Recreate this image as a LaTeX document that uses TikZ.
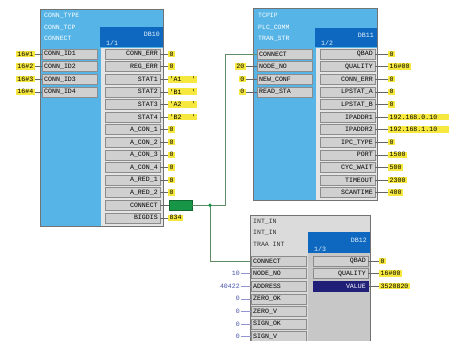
\documentclass[tikz,border=0pt]{standalone}
\usepackage{fontspec}
\setmonofont{Liberation Mono}
\definecolor{fbblue}{RGB}{86,180,230}
\definecolor{fbdark}{RGB}{14,104,192}
\definecolor{pingray}{RGB}{208,208,208}
\definecolor{valyellow}{RGB}{246,232,62}
\definecolor{conngreen}{RGB}{24,150,72}
\definecolor{pinnavy}{RGB}{32,32,120}
\definecolor{constblue}{RGB}{72,82,170}
\definecolor{linkcol}{RGB}{96,140,104}
\tikzset{
  frame/.style={draw=black!55, line width=0.6pt},
  hdr/.style={anchor=north west, align=left, inner sep=0pt, text=white,
    font=\fontsize{6.5}{11.5}\selectfont\ttfamily},
  dbtxt/.style={inner sep=0pt, text=white!85!fbblue},
  pinin/.style={draw=black!45, fill=pingray, text width=51pt, minimum height=10pt,
    inner xsep=2pt, inner ysep=0pt, align=left, anchor=west},
  pinout/.style={pinin, align=right, anchor=east},
  valin/.style={fill=valyellow, inner xsep=1.5pt, inner ysep=1pt, anchor=east},
  valout/.style={valin, anchor=west},
  const/.style={text=constblue, inner xsep=1pt, inner ysep=0pt, anchor=east},
  wire/.style={draw=black!60, line width=0.4pt},
  link/.style={draw=linkcol, line width=0.6pt}
}
\begin{document}
\begin{tikzpicture}[x=1pt, y=-1pt, font=\fontsize{6.6}{7}\selectfont\ttfamily]
  \clip (0,0) rectangle (449,340);
  \fill[white] (0,0) rectangle (449,340);
  % Baustein 1
  \draw[frame, fill=fbblue] (40,9) rectangle (163,226);
  \fill[black!10] (101,48) rectangle (162.6,225.6);
  \fill[fbdark] (100,27) rectangle (163,47);
  \node[hdr] at (44,13) {CONN\_TYPE\\CONN\_TCP\\CONNECT};
  \node[dbtxt, anchor=east] at (160,34) {DB10};
  \node[dbtxt, anchor=west] at (106,43) {1/1};
  \foreach \i in {1,...,4} {
    \node[pinin] (a-in-\i) at (42,{54+12.6*(\i-1)}) {CONN\_ID\i};
    \node[valin] (a-c-\i) at (35,{54+12.6*(\i-1)}) {16\#\i};
    \draw[wire] (a-c-\i) -- (a-in-\i);
  }
  \foreach \n [count=\i from 0] in {CONN\_ERR,REG\_ERR,STAT1,STAT2,STAT3,STAT4,
      A\_CON\_1,A\_CON\_2,A\_CON\_3,A\_CON\_4,A\_RED\_1,A\_RED\_2,CONNECT,BIGDIS}
    \node[pinout] (a-out-\i) at (160,{54+12.6*\i}) {\n};
  \foreach \i in {0,1,6,7,8,9,10,11} {
    \node[valout] (a-v-\i) at (168,{54+12.6*\i}) {0};
    \draw[wire] (a-out-\i) -- (a-v-\i);
  }
  \foreach \i/\v in {2/A1,3/B1,4/A2,5/B2} {
    \node[valout, text width=26pt, align=left] (a-v-\i) at (168,{54+12.6*\i}) {'\v\hfill'};
    \draw[wire] (a-out-\i) -- (a-v-\i);
  }
  \node[valout, fill=conngreen, draw=conngreen!70!black, minimum width=23pt,
    minimum height=10pt] (a-v-12) at (169,{54+12.6*12}) {};
  \draw[wire] (a-out-12) -- (a-v-12);
  \node[valout] (a-v-13) at (168,{54+12.6*13}) {834};
  \draw[wire] (a-out-13) -- (a-v-13);

  % Baustein 2
  \draw[frame, fill=fbblue] (253,8) rectangle (377,200);
  \fill[black!10] (316,48) rectangle (376.6,199.6);
  \fill[fbdark] (315,28) rectangle (377,47);
  \node[hdr] at (258,13) {TCPIP\\PLC\_COMM\\TRAN\_STR};
  \node[dbtxt, anchor=east] at (374,35) {DB11};
  \node[dbtxt, anchor=west] at (321,43) {1/2};
  \foreach \n [count=\i from 0] in {CONNECT,NODE\_NO,NEW\_CONF,READ\_STA}
    \node[pinin] (b-in-\i) at (257,{54+12.6*\i}) {\n};
  \foreach \i/\v in {1/20,2/0,3/0} {
    \node[valin] (b-c-\i) at (246,{54+12.6*\i}) {\v};
    \draw[wire] (b-c-\i) -- (b-in-\i);
  }
  \foreach \n/\v [count=\i from 0] in {QBAD/0,QUALITY/16\#00,CONN\_ERR/0,LPSTAT\_A/0,
      LPSTAT\_B/0,IPADDR1/192.168.0.10,IPADDR2/192.168.1.10,IPC\_TYPE/0,PORT/1500,
      CYC\_WAIT/500,TIMEOUT/2300,SCANTIME/400} {
    \node[pinout] (b-out-\i) at (375,{54+12.6*\i}) {\n};
    \node[valout] (b-v-\i) at (388,{54+12.6*\i}) {\v};
    \draw[wire] (b-out-\i) -- (b-v-\i);
  }
  % lange Werte bis zum Rand
  \foreach \i in {5,6}
    \fill[valyellow] (b-v-\i.north east) rectangle ([xshift=14pt]b-v-\i.south east);

  % Baustein 3
  \draw[frame, fill=black!14] (250,215) rectangle (370,345);
  \fill[black!22] (308,253) rectangle (369.6,345);
  \fill[fbdark] (308,232) rectangle (370,253);
  \node[hdr, text=black!80] at (253,219) {INT\_IN\\INT\_IN\\TRAA INT};
  \node[dbtxt, anchor=east] at (367,240) {DB12};
  \node[dbtxt, anchor=west] at (314,249) {1/3};
  \foreach \n [count=\i from 0] in {CONNECT,NODE\_NO,ADDRESS,ZERO\_OK,ZERO\_V,SIGN\_OK,SIGN\_V}
    \node[pinin] (c-in-\i) at (251,{261+12.6*\i}) {\n};
  \foreach \i/\v in {1/10,2/40422,3/0,4/0,5/0,6/0} {
    \node[const] (c-c-\i) at (241,{261+12.6*\i}) {\v};
    \draw[wire, draw=constblue!60] (c-c-\i) -- (c-in-\i);
  }
  \foreach \n/\v [count=\i from 0] in {QBAD/0,QUALITY/16\#00,VALUE/3520820} {
    \node[pinout] (c-out-\i) at (368,{261+12.6*\i}) {\n};
    \node[valout] (c-v-\i) at (379,{261+12.6*\i}) {\v};
    \draw[wire] (c-out-\i) -- (c-v-\i);
  }
  \node[pinout, fill=pinnavy, draw=pinnavy, text=white] at (c-out-2.east) {VALUE};

  % Verbindung CONNECT
  \coordinate (j) at (210,{54+12.6*12});
  \draw[link] (a-v-12) -- (j) -- (225,{54+12.6*12}) |- (b-in-0.west);
  \draw[link] (j) |- (c-in-0.west);
  \fill[conngreen] (j) circle (1.8pt);
\end{tikzpicture}
\end{document}
